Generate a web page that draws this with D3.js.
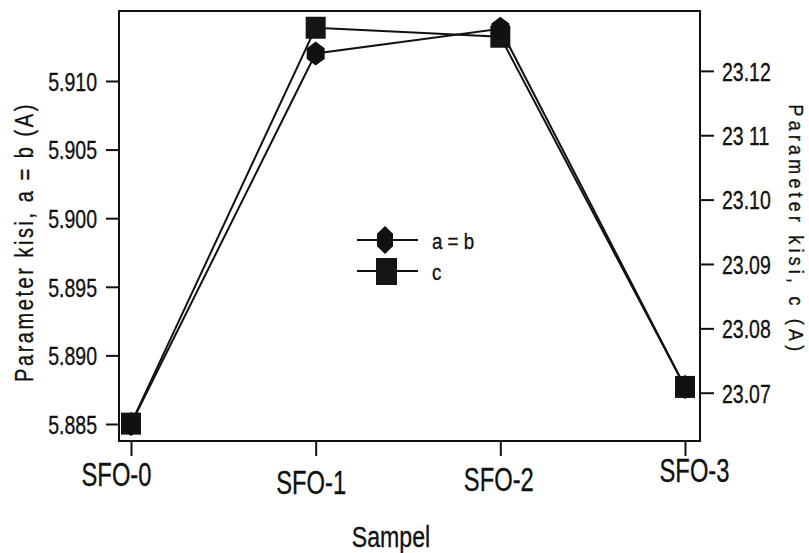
<!DOCTYPE html>
<html>
<head>
<meta charset="utf-8">
<script src="https://cdn.jsdelivr.net/npm/d3@7"></script>
<style>
  html, body { margin: 0; padding: 0; background: #fff; }
  svg { display: block; }
  text { font-family: "Liberation Sans", Arial, sans-serif; fill: #111; stroke: #111; stroke-width: 0.35px; }
</style>
</head>
<body>
<svg id="chart" width="809" height="553"></svg>
<script>
// Lattice parameters of the SFO samples
const samples = ["SFO-0", "SFO-1", "SFO-2", "SFO-3"];
const latticeAB = [5.8850, 5.9120, 5.9138, 5.8877];
const latticeC = [23.0652, 23.1267, 23.1253, 23.0709];

const leftTicks = [5.885, 5.890, 5.895, 5.900, 5.905, 5.910];
const leftTickLabels = ["5.885", "5.890", "5.895", "5.900", "5.905", "5.910"];
const rightTicks = [23.07, 23.08, 23.09, 23.10, 23.11, 23.12];
const rightTickLabels = ["23.07", "23.08", "23.09", "23.10", "23 11", "23.12"];

const seriesNames = ["a = b", "c"];

const svg = d3.select("#chart");
const frame = { left: 119, right: 700, top: 11, bottom: 441 };

// hand-placed sample labels (offset from tick, baseline)
const sampleLabelNudge = { "SFO-0": [-15, 486], "SFO-1": [-5, 494], "SFO-2": [-2, 491], "SFO-3": [9, 482] };

const x = d3.scalePoint().domain(samples).range([131, 685]);
const yAB = d3.scaleLinear().domain([5.88376, 5.91510]).range([frame.bottom, frame.top]);
const yC = d3.scaleLinear().domain([23.0625, 23.1293]).range([frame.bottom, frame.top]);

// plot frame
svg.append("rect")
  .attr("x", frame.left).attr("y", frame.top)
  .attr("width", frame.right - frame.left).attr("height", frame.bottom - frame.top)
  .attr("fill", "none").attr("stroke", "#111").attr("stroke-width", 2);

// left axis
const gL = svg.append("g").attr("transform", `translate(${frame.left},0)`)
  .call(d3.axisLeft(yAB).tickValues(leftTicks)
    .tickFormat((d, i) => leftTickLabels[i]).tickSize(13).tickSizeOuter(0));
gL.select(".domain").remove();
gL.selectAll(".tick line").attr("stroke", "#111").attr("stroke-width", 2);
gL.selectAll(".tick text")
  .attr("x", null).attr("dy", "0.36em")
  .attr("transform", "translate(-22,0) scale(0.75,1)")
  .style("font-size", "26px").attr("fill", "#111");

// right axis
const gR = svg.append("g").attr("transform", `translate(${frame.right},0)`)
  .call(d3.axisRight(yC).tickValues(rightTicks)
    .tickFormat((d, i) => rightTickLabels[i]).tickSize(14).tickSizeOuter(0));
gR.select(".domain").remove();
gR.selectAll(".tick line").attr("stroke", "#111").attr("stroke-width", 2);
gR.selectAll(".tick text")
  .attr("x", null).attr("dy", "0.36em")
  .attr("transform", "translate(22,0) scale(0.75,1)")
  .style("font-size", "26px").attr("fill", "#111");

// bottom axis
const gB = svg.append("g").attr("transform", `translate(0,${frame.bottom})`)
  .call(d3.axisBottom(x).tickSize(15).tickSizeOuter(0));
gB.select(".domain").remove();
gB.selectAll(".tick line").attr("stroke", "#111").attr("stroke-width", 2);
gB.selectAll(".tick text")
  .attr("y", null).attr("dy", null)
  .attr("transform", d => {
    const [dx, base] = sampleLabelNudge[d];
    return `translate(${dx},${base - frame.bottom}) scale(0.72,1)`;
  })
  .style("font-size", "33px").attr("fill", "#111");

// axis titles
svg.append("text")
  .attr("transform", "translate(391,547) scale(0.77,1)")
  .attr("text-anchor", "middle").style("font-size", "30px")
  .text("Sampel");

svg.append("text")
  .attr("transform", "translate(33,242) rotate(-90) scale(0.77,1)")
  .attr("text-anchor", "middle").style("font-size", "26px")
  .style("letter-spacing", "3.3px")
  .text("Parameter kisi, a = b (A)");

svg.append("text")
  .attr("transform", "translate(789,230) rotate(90) scale(0.85,1)")
  .attr("text-anchor", "middle").style("font-size", "21px")
  .style("letter-spacing", "5px")
  .text("Parameter kisi, c (A)");

// marker shapes
function hexPath(w, h) {
  const a = w / 2, b = h / 2;
  return `M0,${-b}L${a},${-b * 0.45}L${a},${b * 0.45}L0,${b}L${-a},${b * 0.45}L${-a},${-b * 0.45}Z`;
}

const lineAB = d3.line().x((d, i) => x(samples[i])).y(d => yAB(d));
const lineC = d3.line().x((d, i) => x(samples[i])).y(d => yC(d));

svg.append("path").attr("d", lineC(latticeC))
  .attr("fill", "none").attr("stroke", "#111").attr("stroke-width", 2);
svg.append("path").attr("d", lineAB(latticeAB))
  .attr("fill", "none").attr("stroke", "#111").attr("stroke-width", 2);

svg.append("g").selectAll("rect").data(latticeC).join("rect")
  .attr("x", (d, i) => x(samples[i]) - 10).attr("y", d => yC(d) - 11)
  .attr("width", 20).attr("height", 22).attr("fill", "#151515");

svg.append("g").selectAll("path").data(latticeAB).join("path")
  .attr("transform", (d, i) => `translate(${x(samples[i])},${yAB(d)})`)
  .attr("d", hexPath(18, 24)).attr("fill", "#111");

// legend
const legend = svg.append("g").attr("transform", "translate(357,240)");
seriesNames.forEach((name, i) => {
  const row = legend.append("g").attr("transform", `translate(0,${i * 31})`);
  row.append("line").attr("x1", 0).attr("x2", 61)
    .attr("stroke", "#111").attr("stroke-width", 2);
  if (i === 0) {
    row.append("path").attr("transform", "translate(28,0)")
      .attr("d", hexPath(16, 28)).attr("fill", "#111");
  } else {
    row.append("rect").attr("x", 19).attr("y", -13)
      .attr("width", 21).attr("height", 27).attr("fill", "#151515");
  }
  row.append("text")
    .attr("transform", "translate(75,9) scale(0.85,1)")
    .style("font-size", "22px").text(name);
});
</script>
</body>
</html>
